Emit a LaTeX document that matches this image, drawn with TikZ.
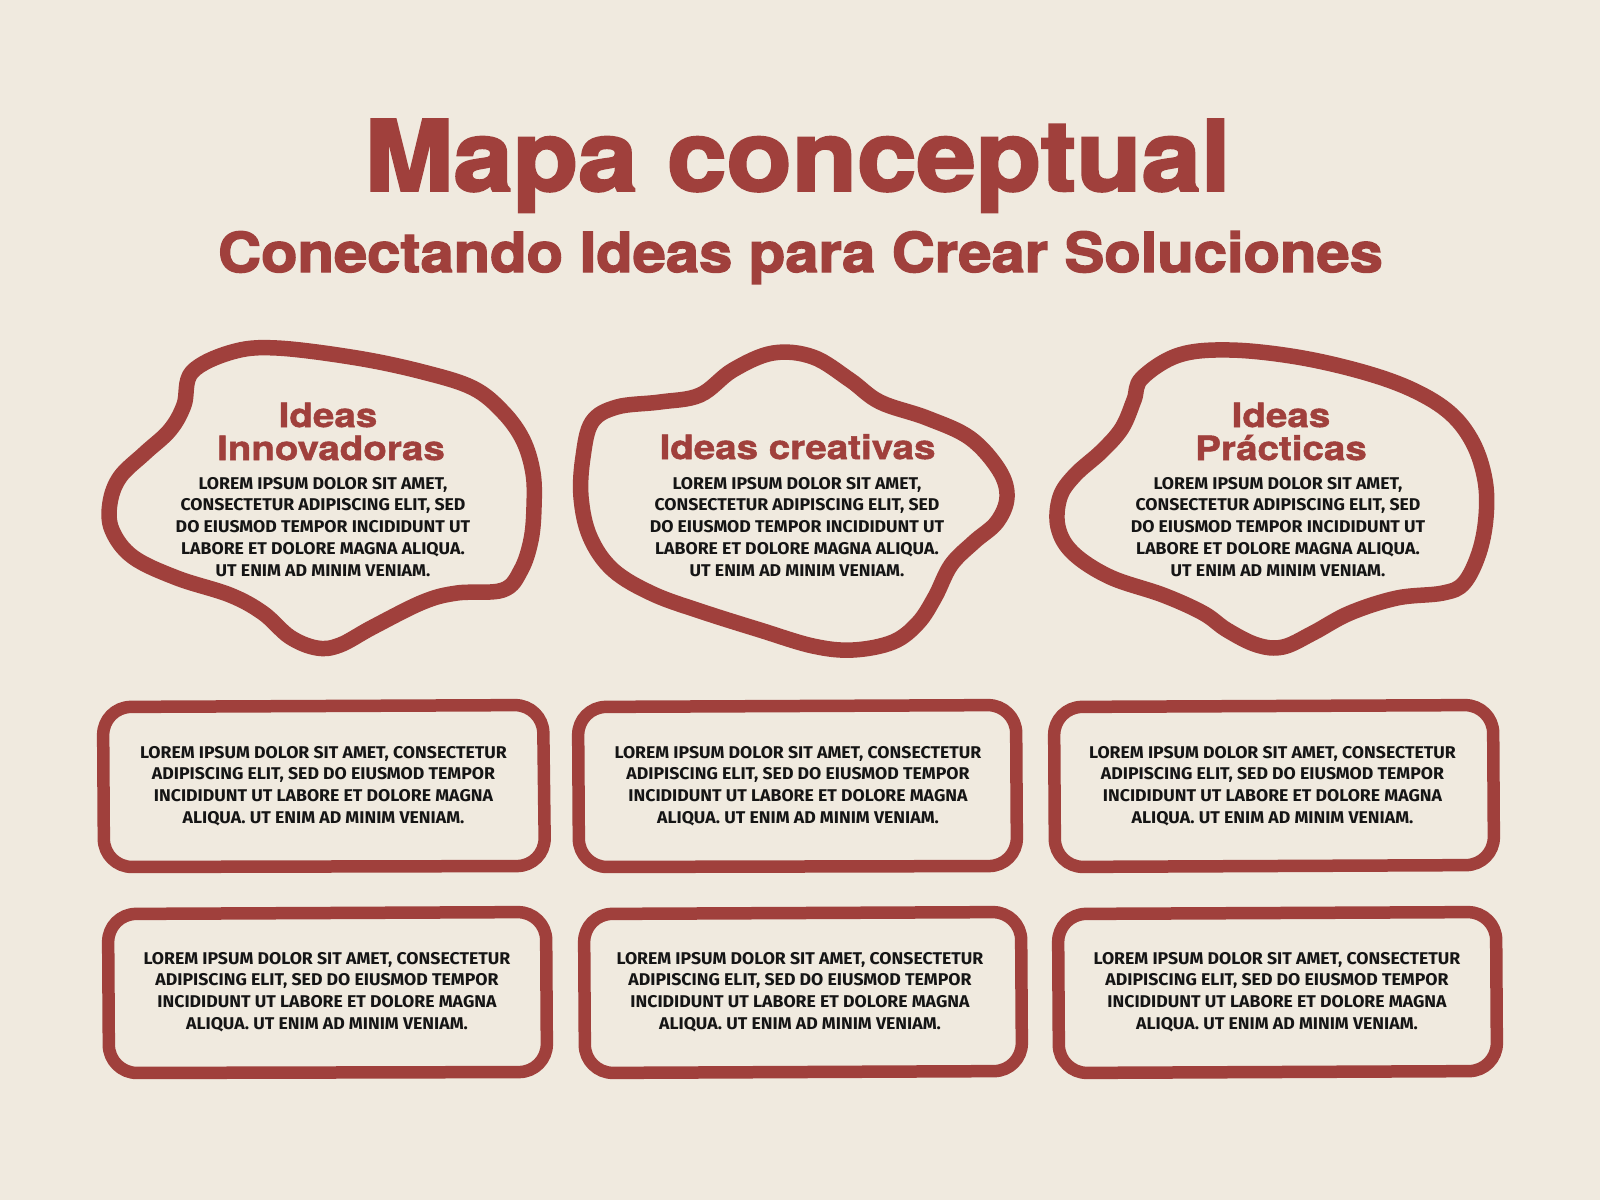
\documentclass[tikz,border=0pt]{standalone}
\usepackage{fontspec}
\setmainfont{Fira Sans}
\newfontfamily\titlefont[FakeStretch=1.09,FakeBold=2.5]{TeX Gyre Heros}
\newfontfamily\subfont[FakeStretch=1.085,FakeBold=2.5]{TeX Gyre Heros}
\newfontfamily\headfont[FakeStretch=1.15,FakeBold=1.5]{TeX Gyre Heros}
\newfontfamily\bodyfont[FakeStretch=1.04]{Fira Sans}
\definecolor{bg}{HTML}{F0EADF}
\definecolor{brick}{HTML}{A0403C}
\definecolor{ink}{HTML}{151515}
\tikzset{
  blob/.style={draw=brick, line width=15.5pt, line join=round},
  card/.style={draw=brick, line width=12.5pt, rounded corners=28pt, line join=round},
  titletext/.style={text=brick, font=\titlefont\bfseries\fontsize{98}{98}\selectfont, inner sep=0pt, anchor=base},
  subtext/.style={text=brick, font=\subfont\bfseries\fontsize{55}{55}\selectfont, inner sep=0pt, anchor=base},
  headtext/.style={text=brick, font=\headfont\bfseries\fontsize{33.5}{33}\selectfont, inner sep=0pt, anchor=base},
  bodytext/.style={text=ink, font=\bodyfont\bfseries\fontsize{17}{21.7}\selectfont, align=center, inner sep=0pt, anchor=north},
}
\begin{document}
\begin{tikzpicture}[x=1pt,y=-1pt]
\useasboundingbox (0,0) rectangle (1600,1200);
\fill[bg] (0,0) rectangle (1600,1200);

% title
\node[titletext] (title) at (797.5,190.7) {Mapa conceptual};
\node[subtext] (subtitle) at (800.5,272) {Conectando Ideas para Crear Soluciones};

% blobs
\draw[blob] plot[smooth cycle, tension=0.6] coordinates {
 (192,372) (232,352) (277,348) (357,358) (423,372) (473,388) (503,412) (523,440)
 (533,473) (534,507) (531,540) (521,570) (503,590) (457,593) (423,602) (373,627)
 (340,645) (317,648) (290,637) (263,613) (230,595) (177,578) (133,557) (112,530)
 (110,503) (120,477) (145,453) (170,430) (184,405)};
\draw[blob] plot[smooth cycle, tension=0.6] coordinates {
 (592,422) (617,407) (660,402) (700,395) (733,370) (773,353) (813,357) (850,380)
 (880,402) (927,418) (970,438) (999,470) (1007,497) (997,522) (974,542) (951,565)
 (935,597) (918,623) (893,642) (853,650) (813,646) (760,630) (703,612) (653,594)
 (613,570) (590,537) (581,497) (583,457)};
\draw[blob] plot[smooth cycle, tension=0.6] coordinates {
 (1142,378) (1179,355) (1230,350) (1297,357) (1363,372) (1413,390) (1450,413)
 (1473,443) (1485,480) (1486,517) (1479,553) (1464,583) (1443,593) (1397,598)
 (1350,613) (1313,633) (1283,647) (1257,645) (1227,630) (1203,613) (1163,595)
 (1110,577) (1073,553) (1058,527) (1060,497) (1075,475) (1102,451) (1122,428)
 (1134,400)};

% blob headings
\node[headtext] (h1a) at (328,427) {Ideas};
\node[headtext] (h1b) at (331,460) {Innovadoras};
\node[headtext] (h2) at (797.5,459) {Ideas creativas};
\node[headtext] (h3a) at (1281,427) {Ideas};
\node[headtext] (h3b) at (1281,460) {Prácticas};

% blob bodies
\node[bodytext] (b1) at (323,477) {LOREM IPSUM DOLOR SIT AMET,\\CONSECTETUR ADIPISCING ELIT, SED\\DO EIUSMOD TEMPOR INCIDIDUNT UT\\LABORE ET DOLORE MAGNA ALIQUA.\\UT ENIM AD MINIM VENIAM.};
\node[bodytext] (b2) at (797,477) {LOREM IPSUM DOLOR SIT AMET,\\CONSECTETUR ADIPISCING ELIT, SED\\DO EIUSMOD TEMPOR INCIDIDUNT UT\\LABORE ET DOLORE MAGNA ALIQUA.\\UT ENIM AD MINIM VENIAM.};
\node[bodytext] (b3) at (1278,477) {LOREM IPSUM DOLOR SIT AMET,\\CONSECTETUR ADIPISCING ELIT, SED\\DO EIUSMOD TEMPOR INCIDIDUNT UT\\LABORE ET DOLORE MAGNA ALIQUA.\\UT ENIM AD MINIM VENIAM.};

% cards row 1
\draw[card] (103,707) -- (543,705) -- (545,866) -- (104,867) -- cycle;
\draw[card] (578,707) -- (1016,705) -- (1017,866) -- (579,867) -- cycle;
\draw[card] (1054,707) -- (1493,705) -- (1494,865) -- (1055,867) -- cycle;
% cards row 2
\draw[card] (108,914) -- (546,912) -- (547,1072) -- (109,1073) -- cycle;
\draw[card] (584,914) -- (1021,912) -- (1022,1071) -- (585,1073) -- cycle;
\draw[card] (1058,914) -- (1496,912) -- (1497,1071) -- (1059,1073) -- cycle;

% card texts
\node[bodytext] (c1) at (323.5,746) {LOREM IPSUM DOLOR SIT AMET, CONSECTETUR\\ADIPISCING ELIT, SED DO EIUSMOD TEMPOR\\INCIDIDUNT UT LABORE ET DOLORE MAGNA\\ALIQUA. UT ENIM AD MINIM VENIAM.};
\node[bodytext] (c2) at (798,746) {LOREM IPSUM DOLOR SIT AMET, CONSECTETUR\\ADIPISCING ELIT, SED DO EIUSMOD TEMPOR\\INCIDIDUNT UT LABORE ET DOLORE MAGNA\\ALIQUA. UT ENIM AD MINIM VENIAM.};
\node[bodytext] (c3) at (1272.5,746) {LOREM IPSUM DOLOR SIT AMET, CONSECTETUR\\ADIPISCING ELIT, SED DO EIUSMOD TEMPOR\\INCIDIDUNT UT LABORE ET DOLORE MAGNA\\ALIQUA. UT ENIM AD MINIM VENIAM.};
\node[bodytext] (c4) at (327,952) {LOREM IPSUM DOLOR SIT AMET, CONSECTETUR\\ADIPISCING ELIT, SED DO EIUSMOD TEMPOR\\INCIDIDUNT UT LABORE ET DOLORE MAGNA\\ALIQUA. UT ENIM AD MINIM VENIAM.};
\node[bodytext] (c5) at (800,952) {LOREM IPSUM DOLOR SIT AMET, CONSECTETUR\\ADIPISCING ELIT, SED DO EIUSMOD TEMPOR\\INCIDIDUNT UT LABORE ET DOLORE MAGNA\\ALIQUA. UT ENIM AD MINIM VENIAM.};
\node[bodytext] (c6) at (1277,952) {LOREM IPSUM DOLOR SIT AMET, CONSECTETUR\\ADIPISCING ELIT, SED DO EIUSMOD TEMPOR\\INCIDIDUNT UT LABORE ET DOLORE MAGNA\\ALIQUA. UT ENIM AD MINIM VENIAM.};
\end{tikzpicture}
\end{document}
